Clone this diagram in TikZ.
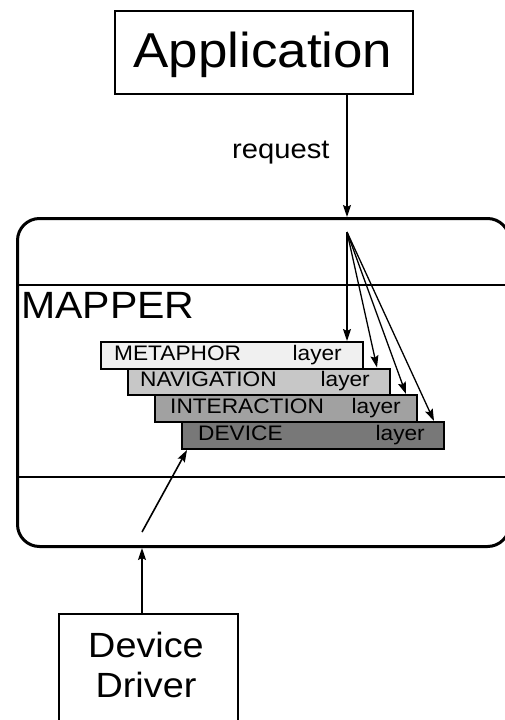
\documentclass[tikz,border=0pt]{standalone}
\usepackage{fontspec}
\setmainfont{Liberation Sans}[FakeStretch=1.08]
\usetikzlibrary{arrows.meta,calc}
\begin{document}
\begin{tikzpicture}[x=1pt,y=-1pt,
  arr/.style={line width=1.6pt,-{Stealth[length=12pt,width=8pt,inset=2pt]}},
  fanarr/.style={line width=1.3pt,-{Stealth[length=12pt,width=8pt,inset=2pt]}},
  plainbox/.style={draw,line width=2.2pt,inner sep=0pt,rectangle},
  layerbox/.style={draw,line width=2pt,inner sep=0pt,rectangle,minimum width=262pt,minimum height=26.5pt,anchor=north west},
  layertxt/.style={inner sep=0pt,font=\fontsize{21}{24}\selectfont},
  bigtxt/.style={inner sep=0pt}
]
\useasboundingbox (0,0) rectangle (505,720);
\fill[white] (0,0) rectangle (505,720);

% Application
\node[plainbox,minimum width=298pt,minimum height=83pt,anchor=north west] (app) at (114,10) {};
\node[bigtxt,anchor=base,font=\fontsize{49}{55}\selectfont] (apptxt) at (263,67) {Application};

% Mapper
\node[draw,line width=3pt,rounded corners=22pt,minimum width=492pt,minimum height=328pt,anchor=north west,inner sep=0pt] (mapper) at (16,217) {};
\coordinate (l1a) at (16,285);
\coordinate (l1b) at (506,285);
\coordinate (l2a) at (16,477);
\coordinate (l2b) at (506,477);
\draw[line width=2.2pt] (l1a) -- (l1b);
\draw[line width=2.2pt] (l2a) -- (l2b);
\node[bigtxt,anchor=base west,font=\fontsize{38}{44}\selectfont] (mappertxt) at (21,318) {MAPPER};

% request
\coordinate (fan) at (347,232);
\draw[arr] (app.south -| fan) -- (mapper.north -| fan);
\node[bigtxt,anchor=base west,font=\fontsize{27}{30}\selectfont] (req) at (232,158) {request};

% Layers
\node[layerbox,fill=black!6] (met) at (100,341) {};
\node[layerbox,fill=black!22] (nav) at (127,367.5) {};
\node[layerbox,fill=black!37] (int) at (154,394) {};
\node[layerbox,fill=black!53] (dev) at (181,421) {};

\node[layertxt,anchor=base west] (mett) at ($(met.north west)+(14,19)$) {METAPHOR};
\node[layertxt,anchor=base east] (metl) at ($(met.north east)+(-22,19)$) {layer};
\node[layertxt,anchor=base west] (navt) at ($(nav.north west)+(13,19)$) {NAVIGATION};
\node[layertxt,anchor=base east] (navl) at ($(nav.north east)+(-21,19)$) {layer};
\node[layertxt,anchor=base west] (intt) at ($(int.north west)+(16,19)$) {INTERACTION};
\node[layertxt,anchor=base east] (intl) at ($(int.north east)+(-17,19)$) {layer};
\node[layertxt,anchor=base west] (devt) at ($(dev.north west)+(17,19)$) {DEVICE};
\node[layertxt,anchor=base east] (devl) at ($(dev.north east)+(-20,19)$) {layer};

% fan arrows
\draw[fanarr] (fan) -- (met.north -| fan);
\draw[fanarr] (fan) -- ($(nav.north east)+(-14,0)$);
\draw[fanarr] (fan) -- ($(int.north east)+(-12,0)$);
\draw[fanarr] (fan) -- ($(dev.north east)+(-11,0)$);

% Device driver
\node[plainbox,minimum width=179pt,minimum height=130pt,anchor=north west] (dd) at (58,613) {};
\node[bigtxt,anchor=base,font=\fontsize{35}{40}\selectfont] (ddt1) at (146,657) {Device};
\node[bigtxt,anchor=base,font=\fontsize{35}{40}\selectfont] (ddt2) at (146,697) {Driver};
\coordinate (ddtop) at (142,613);
\draw[arr] (ddtop) -- (mapper.south -| ddtop);
\coordinate (dstart) at (142,532);
\coordinate (dend) at (187,450);
\draw[arr] (dstart) -- (dend);
\end{tikzpicture}
\end{document}
